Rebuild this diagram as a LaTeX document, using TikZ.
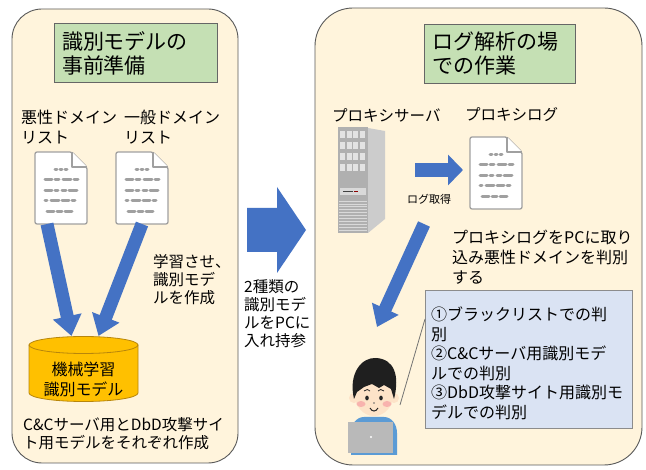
\documentclass[tikz,border=0pt]{standalone}
\usepackage{fontspec}
\setmainfont{Noto Sans CJK JP}
\usetikzlibrary{arrows.meta}

\definecolor{panelfill}{HTML}{FFF4DC}
\definecolor{titlegreen}{HTML}{C5E0B4}
\definecolor{arrowblue}{HTML}{4472C4}
\definecolor{dbyellow}{HTML}{FFC000}
\definecolor{dbedge}{HTML}{B8860B}
\definecolor{notefill}{HTML}{DAE3F3}
\definecolor{docgray}{HTML}{A0A0A0}
\definecolor{skin}{HTML}{FDE3C8}
\definecolor{shirt}{HTML}{5B9BD5}
\definecolor{cheek}{HTML}{F7A8A8}

\begin{document}
\begin{tikzpicture}[x=1pt,y=-1pt]

% Styles
\tikzset{
  panel/.style={draw=black!65, line width=0.9pt, fill=panelfill},
  titlebox/.style={draw=black!60, line width=0.8pt, fill=titlegreen, inner sep=8pt,
    align=left, minimum height=58pt, font=\fontsize{21}{24}\selectfont},
  txt/.style={inner sep=0pt, align=left, font=\fontsize{15.5}{18}\selectfont},
  bluearrow/.style={draw=arrowblue, line width=13pt, -{Triangle[width=28pt,length=20pt]}},
  smallarrow/.style={draw=arrowblue, line width=14pt, -{Triangle[width=30pt,length=15pt]}},
  notebox/.style={draw=black!45, line width=0.8pt, fill=notefill, minimum width=207pt,
    minimum height=138pt, inner sep=0pt},
  % document icon, 52 x 72
  docicon/.pic={
    \draw[docgray, line width=1.3pt, fill=white, rounded corners=2pt]
      (0,0) -- (37,0) -- (52,15) -- (52,72) -- (0,72) -- cycle;
    \draw[docgray, line width=1.3pt, fill=white, line join=round] (37,0) -- (37,15) -- (52,15);
    \foreach \yy/\segs in {18/{20/22,25/27,30/32}, 28/{10/17,20/24,28/36,39/43},
        39/{10/17,20/23,27/31,34/42}, 49/{10/12,16/24,27/34,37/40}, 60/{12/19,22/27,30/37}}
      \foreach \a/\b in \segs
        \draw[docgray, line width=3pt, line cap=round] (\a,\yy) -- (\b,\yy);
    \coordinate (-bot) at (26,72);
    \coordinate (-west) at (0,33);
  }
}

\fill[white] (0,0) rectangle (646,470);
\useasboundingbox (0,0) rectangle (646,470);

% Panels
\draw[panel, rounded corners=30pt] (12,9) rectangle (238,463);
\draw[panel, rounded corners=38pt] (315,8) rectangle (642,465);

% ---- left: model preparation ----
\node[titlebox, text width=147pt] (prep) at (135.5,53) {識別モデルの\\事前準備};

\node[txt, anchor=west, font=\fontsize{16}{20}\selectfont] (malname) at (21,127) {悪性ドメイン\\リスト};
\node[txt, anchor=west, font=\fontsize{16}{20}\selectfont] (genname) at (124,127) {一般ドメイン\\リスト};

\pic (maldoc) at (35,152) {docicon};
\pic (gendoc) at (116,152) {docicon};

% model database (cylinder)
\def\dbrx{54.5}
\def\dbry{8.5}
\filldraw[draw=dbedge, fill=dbyellow, line width=0.8pt] (29,345) -- (29,393)
  arc[start angle=180, end angle=0, x radius=\dbrx, y radius=\dbry] -- (138,345) -- cycle;
\filldraw[draw=dbedge, fill=dbyellow, line width=0.8pt] (83.5,345) ellipse ({\dbrx} and {\dbry});
\coordinate (dbtop) at (83.5,336);
\node[txt, align=center, font=\fontsize{16}{20}\selectfont] (model) at (83.5,379) {機械学習\\識別モデル};

\draw[bluearrow] ([xshift=-14pt]maldoc-bot) -- ([xshift=-12pt]dbtop);
\draw[bluearrow] ([xshift=0pt]gendoc-bot) -- ([xshift=15pt]dbtop);

\node[txt, anchor=west] (learn) at (153,280) {学習させ、\\識別モデ\\ルを作成};
\node[txt, anchor=west] (each) at (23,434)
  {C\&Cサーバ用とDbD攻撃サイ\\ト用モデルをそれぞれ作成};

% ---- middle ----
\fill[arrowblue] (247,208) -- (277,208) -- (277,187) -- (306,230) -- (277,273)
  -- (277,252) -- (247,252) -- cycle;
\node[txt, anchor=west] (carry) at (244,314) {2種類の\\識別モデ\\ルをPCに\\入れ持参};

% ---- right: work at the log analysis site ----
\node[titlebox, text width=135pt] (site) at (499.5,54) {ログ解析の場\\での作業};

\node[txt, anchor=west] (srvname) at (332,115) {プロキシサーバ};
\node[txt, anchor=west] (logname) at (465,115) {プロキシログ};

% proxy server
\begin{scope}[shift={(338,127)}]
  \fill[gray!40] (30,1) -- (47,4) -- (47,92) -- (30,106) -- cycle;
  \fill[gray!62] (0,0) rectangle (30,106);
  \foreach \r in {0,...,3}
    \foreach \c in {0,...,3}
      \fill[gray!22] (2+\c*6.6,4+\r*11) rectangle +(5,7);
  \fill[gray!30] (2,61) rectangle (28,68);
  \draw[black!75, line width=1.4pt] (5,64.5) -- (15,64.5);
  \draw[red!55!black, line width=1.4pt] (16,64.5) -- (20,64.5);
  \foreach \k in {0,...,10}
    \draw[gray!30, line width=0.6pt] (1,74+\k*2.9) -- (29,74+\k*2.9);
\end{scope}

\pic (plog) at (470,137) {docicon};
\coordinate (srvport) at (415,170);
\draw[smallarrow] (srvport) -- ([xshift=-7pt]plog-west);
\node[txt, anchor=west, font=\fontsize{11}{13}\selectfont] (fetch) at (407,199) {ログ取得};

\node[txt, anchor=west, font=\fontsize{16}{20}\selectfont] (judge) at (452,257)
  {プロキシログをPCに取り\\込み悪性ドメインを判別\\する};

\coordinate (fromsrv) at (424,224);
\coordinate (analyst) at (377,327);
\draw[bluearrow] (fromsrv) -- (analyst);

\node[notebox, anchor=north west] (checks) at (425,290) {};
\node[txt, anchor=north west, font=\fontsize{16}{19.5}\selectfont] (checklist)
  at ([xshift=6pt,yshift=-17pt]checks.north west)
  {①ブラックリストでの判\\別\\②C\&Cサーバ用識別モデ\\ルでの判別\\③DbD攻撃サイト用識別モ\\デルでの判別};

% analyst at the laptop
\begin{scope}[shift={(374,395)}]
  \fill[shirt] (-23,60) -- (-23,38) to[out=90,in=180] (-10,22) -- (10,22)
    to[out=0,in=90] (23,38) -- (23,60) -- cycle;
  \fill[skin] (-20,3) circle (5);
  \fill[skin] (20,3) circle (5);
  \fill[skin] (0,0) ellipse (19 and 21);
  \fill[black!88] (-20,4) .. controls (-26,-22) and (-12,-38) .. (2,-37)
    .. controls (20,-36) and (26,-20) .. (20,4) -- (17,-6) -- (10,-10) -- (5,-7)
    -- (-2,-11) -- (-10,-8) -- (-17,-3) -- cycle;
  \fill[cheek, opacity=0.8] (-13,9) ellipse (4.5 and 3);
  \fill[cheek, opacity=0.8] (13,9) ellipse (4.5 and 3);
  \fill[black!85] (-7,3) ellipse (1.8 and 2.4);
  \fill[black!85] (7,3) ellipse (1.8 and 2.4);
  \draw[black!85, line width=0.8pt] (-10,-4) .. controls (-8,-6) and (-5,-6) .. (-4,-4);
  \draw[black!85, line width=0.8pt] (4,-4) .. controls (5,-6) and (8,-6) .. (10,-4);
  \fill[black!60] (0,8) circle (0.8);
  \draw[black!85, line width=1pt] (-4,13) .. controls (-2,17) and (2,17) .. (4,13);
  \fill[gray!55] (-26,27) rectangle (19,58);
  \fill[white] (-3,42) circle (1.2);
\end{scope}
\coordinate (speaker) at (400,405);
\draw[black!55, line width=0.8pt] (speaker) -- ([yshift=-29pt]checks.north west);

\end{tikzpicture}
\end{document}
